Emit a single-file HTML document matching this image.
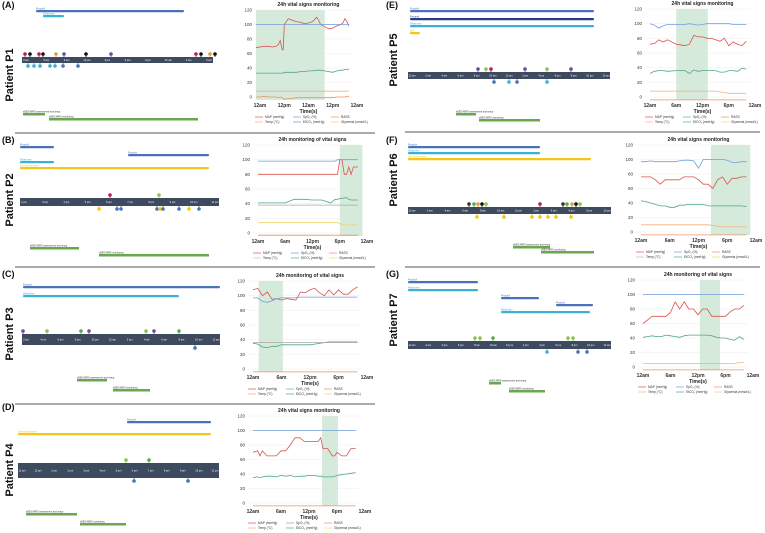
<!DOCTYPE html>
<html><head><meta charset="utf-8">
<style>
html,body{margin:0;padding:0;background:#fff;}
svg{display:block;font-family:"Liberation Sans",sans-serif;}
</style></head>
<body>
<svg id="fig" width="765" height="533" viewBox="0 0 765 533" xmlns="http://www.w3.org/2000/svg"></svg>
<script>
// ---------- chart data (hours since start, values) ----------
const A_HOURS=[-2,0,2,4,6,8,9,10,11,11.5,12,14,16,18,20,22,24,26,28,29,30,32,34,36,38,40,41,42,43,44];
const A_MAP=[68,69,70,70,69,70,72,78,65,65,100,108,106,104,103,101,102,104,110,106,100,97,94,95,98,100,102,108,104,98];
const A_SPO2=[100,100,100,100,100,100,100,100,100,100,100,100,100,100,100,100,100,100,100,100,100,100,100,100,100,100,100,100,100,100];
const A_CO2=[33,33,33,33,33,33,33,33,33,33,34,34,34,34,35,35,36,36,37,37,37,36,35,34,36,37,37,38,38,38];
const A_TEMP=[8,8,8,8,8,8,8,8,8,8,8,8,8,8,8,8,8,8,8,8,8,8,8,8,8,8,8,8,8,8];
const A_RASS=[0,0,1,0,0,0,-1,0,-1,-2,-3,-2,-2,-1,-1,-1,-1,-1,-1,-1,-1,-1,-1,-1,0,0,0,0,1,1];

const B_HOURS=[0,2,4,6,8,10,12,14,16,17,17.5,18,18.5,19,19.5,20,20.5,21,22];
const B_MAP=[80,80,80,80,80,80,80,80,80,80,80,100,100,80,80,90,80,90,90];
const B_SPO2=[98,98,98,98,98,98,98,98,98,98,100,100,100,100,100,100,100,100,100];
const B_CO2=[41,41,41,41,46,46,45,45,41,46,46,47,47,48,48,46,45,45,45];
const B_TEMP=[38,38,38,38,38,38,38,38,38,38,38,38,38,38,38,38,38,38,38];
const B_GLY=[14,14,14,14,14,14,14,14,14,14,14,13,12,11,11,11,11,11,11];
const B_RASS=[-3,-3,-3,-3,-3,-3,-3,-3,-3,-3,-3,-3,-3,-3,-3,-3,-3,-3,-3];

const C_HOURS=[0,1,2,3,4,5,6,7,8,9,10,11,12,13,14,15,16,17,18,19,20,21,22];
const C_MAP=[108,110,100,105,95,96,94,96,95,94,105,104,108,110,104,100,108,101,108,102,102,108,112];
const C_SPO2=[97,97,92,91,93,96,97,97,97,97,98,98,98,98,98,98,98,98,98,98,98,98,98];
const C_CO2=[35,34,30,29,31,31,33,33,33,33,33,33,33,34,35,36,37,37,37,37,37,37,37];
const C_TEMP=[36,36,36,36,36,36,36,36,36,36,36,36,36,36,36,36,36,36,36,36,36,36,36];
const C_RASS=[-4,-4,-4,-4,-4,-4,-4,-4,-4,-4,-4,-4,-4,-4,-4,-4,-4,-4,-4,-4,-4,-4,-4];

const D_HOURS=[0,1,1.5,2,3,4,5,6,7,8,9,10,11,12,13,14,14.5,15,16,17,17.5,18,19,20,21,22];
const D_MAP=[70,72,65,72,65,65,65,72,72,80,90,90,85,85,85,85,90,75,75,65,65,70,65,65,75,75];
const D_SPO2=[100,100,100,100,100,100,100,100,100,100,100,100,100,100,100,100,100,100,100,100,100,100,100,100,100,100];
const D_CO2=[35,36,35,36,37,37,36,38,37,38,36,37,37,38,38,37,37,36,36,36,37,38,39,40,41,42];
const D_RASS=[-4,-4,-4,-4,-4,-4,-4,-4,-4,-4,-4,-4,-4,-4,-4,-4,-4,-4,-4,-4,-4,-4,-4,-4,-4,-4];

const E_HOURS=[0,1,2,3,4,6,8,9,10,11,12,13,14,15,16,17,18,19,20,21,22];
const E_MAP=[72,73,78,75,78,72,70,72,84,82,82,80,80,78,76,80,70,75,72,70,76];
const E_SPO2=[100,98,94,97,99,99,99,100,99,98,99,100,100,100,100,100,100,99,99,99,99];
const E_CO2=[32,35,36,36,35,36,36,32,37,35,36,36,36,36,34,34,36,36,35,39,38];
const E_TEMP=[8,8,8,8,8,8,8,8,8,8,8,8,8,8,7,6,5,5,5,5,5];
const E_RASS=[-4,-4,-4,-4,-4,-4,-4,-4,-4,-4,-4,-4,-4,-4,-4,-4,-4,-4,-4,-4,-4];

const F_HOURS=[0,1,2,3,4,5,6,7,8,9,10,11,12,13,14,15,16,17,18,19,20,21,22];
const F_MAP=[76,76,76,72,66,72,72,72,72,76,76,76,72,66,66,60,72,76,66,74,74,76,76];
const F_SPO2=[97,97,98,97,97,97,97,97,98,99,99,98,88,100,100,100,100,100,99,96,96,97,97];
const F_CO2=[43,42,40,38,36,36,34,34,37,37,38,38,38,38,36,36,36,36,36,36,36,36,35];
const F_TEMP=[10,10,10,10,10,10,10,10,10,10,10,10,10,10,10,9,8,7,7,7,7,7,7];
const F_RASS=[-4,-4,-4,-4,-4,-4,-4,-4,-4,-4,-4,-4,-4,-4,-4,-4,-4,-4,-4,-4,-4,-4,-4];

const G_HOURS=[0,1,2,3,4,5,6,7,8,9,10,11,12,13,14,15,16,17,18,19,20,21,22];
const G_MAP=[60,65,70,70,70,70,75,90,80,90,80,80,72,80,80,70,70,70,70,76,80,80,85];
const G_SPO2=[100,100,100,100,100,100,100,100,100,100,100,100,100,100,100,100,100,100,100,100,100,100,100];
const G_CO2=[41,42,43,42,42,44,43,42,41,43,44,44,44,44,44,43,41,40,40,38,37,42,38];
const G_TEMP=[5,5,5,5,5,5,5,5,5,5,5,5,5,5,5,5,5,5,5,5,5,6,6];
const G_RASS=[-4,-4,-4,-4,-4,-4,-4,-4,-4,-4,-4,-4,-4,-4,-4,-4,-4,-4,-4,-4,-4,-4,-4];

const Y_TICKS=[0,20,40,60,80,100,120];
const TICKS_48=["12am","12pm","12am","12pm","12am"];
const TICKS_24=["12am","6am","12pm","6pm","12am"];
const LEGEND_LABELS=["MAP (mmHg)","SpO₂ (%)","RASS","Temp (°C)","EtCO₂ (mmHg)","Glycemia (mmol/L)"];
const LEGEND_COLORS=["#d9534f","#6f9fd8","#e8916b","#f0b27a","#4fa58a","#f3d36b"];

const NS="http://www.w3.org/2000/svg";
const svg=document.getElementById('fig');
function mk(tag,attrs,parent,txt){const e=document.createElementNS(NS,tag);for(const k in attrs)e.setAttribute(k,attrs[k]);if(txt!==undefined)e.textContent=txt;(parent||svg).appendChild(e);return e;}

const charts=[
 {id:'a',title:'24h vital signs monitoring',x0:260,x1:357,hrs:48,yt:10,yb:97,ticks:TICKS_48,shade:[-2,32],H:A_HOURS,S:[[A_MAP,'#d9534f'],[A_SPO2,'#6f9fd8'],[A_CO2,'#4fa58a'],[A_TEMP,'#f0b27a'],[A_RASS,'#e8916b']]},
 {id:'b',title:'24h monitoring of vital signs',x0:258,x1:367,hrs:24,yt:145,yb:233,ticks:TICKS_24,shade:[18,23],H:B_HOURS,S:[[B_MAP,'#d9534f'],[B_SPO2,'#6f9fd8'],[B_CO2,'#4fa58a'],[B_TEMP,'#a8a8a8'],[B_GLY,'#f3d36b'],[B_RASS,'#e8916b']]},
 {id:'c',title:'24h monitoring of vital signs',x0:253,x1:367,hrs:24,yt:281,yb:369,ticks:TICKS_24,shade:[1.2,6.3],H:C_HOURS,S:[[C_MAP,'#d9534f'],[C_SPO2,'#6f9fd8'],[C_CO2,'#4fa58a'],[C_TEMP,'#a8a8a8'],[C_RASS,'#e8916b']]},
 {id:'d',title:'24h vital signs monitoring',x0:253,x1:365,hrs:24,yt:416,yb:503,ticks:TICKS_24,shade:[14.8,18.2],H:D_HOURS,S:[[D_MAP,'#d9534f'],[D_SPO2,'#6f9fd8'],[D_CO2,'#4fa58a'],[D_RASS,'#e8916b']]},
 {id:'e',title:'24h vital signs monitoring',x0:650,x1:755,hrs:24,yt:9,yb:97,ticks:TICKS_24,shade:[6,13.2],H:E_HOURS,S:[[E_MAP,'#d9534f'],[E_SPO2,'#6f9fd8'],[E_CO2,'#4fa58a'],[E_TEMP,'#f0b27a'],[E_RASS,'#e8916b']]},
 {id:'f',title:'24h vital signs monitoring',x0:641,x1:756,hrs:24,yt:145,yb:232,ticks:TICKS_24,shade:[14.6,22.8],H:F_HOURS,S:[[F_MAP,'#d9534f'],[F_SPO2,'#6f9fd8'],[F_CO2,'#4fa58a'],[F_TEMP,'#f0b27a'],[F_RASS,'#e8916b']]},
 {id:'g',title:'24h monitoring of vital signs',x0:643,x1:753,hrs:24,yt:280,yb:367,ticks:TICKS_24,shade:[12.4,16.8],H:G_HOURS,S:[[G_MAP,'#d9534f'],[G_SPO2,'#6f9fd8'],[G_CO2,'#4fa58a'],[G_TEMP,'#f0b27a'],[G_RASS,'#e8916b']]}
];

charts.forEach(c=>{
  const g=mk('g',{});
  
  
  const xs=h=>c.x0+(c.x1-c.x0)*h/c.hrs;
  const ys=v=>c.yb-(c.yb-c.yt)*v/120;
  const pl=c.x0-5, pr=c.x0+(c.x1-c.x0)*(c.hrs===48?44:22)/c.hrs+4;
  // grid
  Y_TICKS.forEach(t=>{
    const ln=mk('line',{x1:pl,x2:pr,y1:ys(t),y2:ys(t),stroke:'#eeeeee','stroke-width':0.5},g);
    
    
    const tx=mk('text',{x:pl-3,y:ys(t)+1.5,'font-size':4.5,'text-anchor':'end',fill:'#333'},g,String(t));
    
    
  });
  // shade
  const sh=mk('rect',{x:Math.max(pl,xs(c.shade[0])),y:c.yt,width:xs(c.shade[1])-Math.max(pl,xs(c.shade[0])),height:c.yb-c.yt+3,fill:'#cfe6d6',opacity:0.85},g);
  
  
  // title
  const ti=mk('text',{x:(c.x0+c.x1)/2,y:c.yt-4,'font-size':5,'font-weight':'bold','text-anchor':'middle',fill:'#222'},g,c.title);
  
  
  // x ticks
  c.ticks.forEach((t,i)=>{
    const tx=mk('text',{x:c.x0+(c.x1-c.x0)*i/(c.ticks.length-1),y:c.yb+10,'font-size':5,'font-weight':'bold','text-anchor':'middle',fill:'#333'},g,t);
    
    
  });
  const xt=mk('text',{x:(c.x0+c.x1)/2,y:c.yb+16,'font-size':5,'font-weight':'bold','text-anchor':'middle',fill:'#222'},g,'Time(s)');
  
  
  // series
  c.S.forEach((s,si)=>{
    const pts=c.H.map((h,i)=>xs(h).toFixed(1)+','+ys(s[0][i]).toFixed(1)).join(' ');
    const pth=mk('polyline',{points:pts,fill:'none',stroke:s[1],'stroke-width':0.8},g);
    
    
  });
  // legend
  LEGEND_LABELS.forEach((lab,i)=>{
    const col=i%3,row=Math.floor(i/3);
    const lx=c.x0-5+col*38, ly=c.yb+21+row*5;
    const ll=mk('line',{x1:lx,x2:lx+8,y1:ly-1,y2:ly-1,stroke:LEGEND_COLORS[i],'stroke-width':0.7},g);
    
    
    const lt=mk('text',{x:lx+10,y:ly,'font-size':3.2,fill:'#333'},g,lab);
    
    
  });
});

// ---------- timelines / panel labels ----------
const panels=[
 {L:'(A)',P:'Patient P1',lx:2,ly:8,px:13,py:75,bar:[22,57,213,6],ticks:['3 am','6 am','9 am','12 pm','3 pm','6 pm','9 pm','12 am','3 am','6 am'],
  bars:[[36,10,184,'#4a72b8','Propofol'],[43,15,64,'#3bb0d8','Midazolam']],green:[[23,113,45],[49,118,198]],
  marks:[[25,'#c2185b',-1],[30,'#111',-1],[39,'#c2185b',-1],[43,'#111',-1],[56,'#e39b45',-1],[64,'#6a4c9c',-1],[86,'#111',-1],[111,'#6a4c9c',-1],[196,'#c2185b',-1],[201,'#111',-1],[210,'#e39b45',-1],[215,'#111',-1],[28,'#3bb0d8',1],[34,'#3bb0d8',1],[40,'#3bb0d8',1],[50,'#3bb0d8',1],[55,'#3bb0d8',1],[63,'#4a72b8',1],[78,'#4a72b8',1]]},
 {L:'(B)',P:'Patient P2',lx:2,ly:143,px:13,py:200,bar:[20,198,219,8],ticks:['2 pm','3 pm','4 pm','5 pm','6 pm','7 pm','8 pm','9 pm','10 pm','11 pm'],
  bars:[[20,146,54,'#4a72b8','Propofol'],[128,154,209,'#4a72b8','Propofol'],[20,161,54,'#3bb0d8','Midazolam'],[20,167,209,'#f5c518','Dexmedetomidine']],green:[[30,247,79],[99,254,209]],
  marks:[[110,'#c2185b',-1],[159,'#8bc34a',-1],[99,'#f5c518',1],[117,'#4a72b8',1],[121,'#4a72b8',1],[157,'#4a72b8',1],[160,'#f5c518',1],[163,'#4a72b8',1],[179,'#4a72b8',1],[189,'#f5c518',1],[199,'#4a72b8',1]]},
 {L:'(C)',P:'Patient P3',lx:2,ly:277,px:13,py:334,bar:[22,334,220,11],ticks:['2 pm','4 pm','6 pm','8 pm','10 pm','12 am','2 am','4 am','6 am','8 am','10 am','12 pm'],
  bars:[[23,286,220,'#4a72b8','Propofol'],[23,295,179,'#3bb0d8','Midazolam']],green:[[77,379,107],[113,389,150]],
  marks:[[23,'#6a4c9c',-1],[47,'#8bc34a',-1],[81,'#5aa84f',-1],[89,'#6a4c9c',-1],[146,'#8bc34a',-1],[154,'#6a4c9c',-1],[179,'#5aa84f',-1],[195,'#4a72b8',1]]},
 {L:'(D)',P:'Patient P4',lx:2,ly:410,px:13,py:470,bar:[18,463,219,15],ticks:['11 am','12 pm','1 pm','2 pm','3 pm','4 pm','5 pm','6 pm','7 pm','8 pm','9 pm','10 pm','11 pm'],
  bars:[[127,421,211,'#4a72b8','Propofol'],[18,433,211,'#f5c518','Dexmedetomidine']],green:[[26,513,77],[80,523,126]],
  marks:[[126,'#8bc34a',-1],[149,'#5aa84f',-1],[134,'#4a72b8',1],[188,'#4a72b8',1]]},
 {L:'(E)',P:'Patient P5',lx:386,ly:8,px:397,py:60,bar:[408,72,610,7],ticks:['12 am','2 am','4 am','6 am','8 am','10 am','12 pm','2 pm','4 pm','6 pm','8 pm','10 pm','12 am'],
  bars:[[410,10,594,'#4a72b8','Propofol'],[410,18,594,'#2e3a8c','Fentanyl'],[410,25,594,'#3bb0d8','Midazolam'],[410,32,420,'#f5c518','Dex']],green:[[456,113,476],[479,119,540]],
  marks:[[478,'#6a4c9c',-1],[486,'#8bc34a',-1],[491,'#c2185b',-1],[525,'#6a4c9c',-1],[547,'#8bc34a',-1],[571,'#6a4c9c',-1],[494,'#4a72b8',1],[509,'#3bb0d8',1],[517,'#4a72b8',1],[547,'#3bb0d8',1]]},
 {L:'(F)',P:'Patient P6',lx:386,ly:143,px:397,py:180,bar:[408,207,611,7],ticks:['12 am','2 am','4 am','6 am','8 am','10 am','12 pm','2 pm','4 pm','6 pm','8 pm','10 pm'],
  bars:[[408,146,540,'#4a72b8','Propofol'],[408,152,540,'#3bb0d8','Midazolam'],[408,158,591,'#f5c518','Dexmedetomidine']],green:[[513,246,550],[541,251,594]],
  marks:[[469,'#333',-1],[474,'#5aa84f',-1],[478,'#e39b45',-1],[482,'#111',-1],[486,'#8bc34a',-1],[540,'#c2185b',-1],[563,'#333',-1],[567,'#5aa84f',-1],[572,'#e39b45',-1],[576,'#111',-1],[580,'#8bc34a',-1],[477,'#f5c518',1],[504,'#f5c518',1],[532,'#f5c518',1],[540,'#f5c518',1],[548,'#f5c518',1],[556,'#f5c518',1],[571,'#f5c518',1]]},
 {L:'(G)',P:'Patient P7',lx:386,ly:277,px:397,py:320,bar:[408,341,611,8],ticks:['12 am','2 am','4 am','6 am','8 am','10 am','12 pm','2 pm','4 pm','6 pm','8 pm','10 pm','12 am'],
  bars:[[408,281,478,'#4a72b8','Propofol'],[408,289,478,'#3bb0d8','Midazolam'],[501,297,539,'#4a72b8','Propofol'],[556,304,593,'#4a72b8','Propofol'],[501,311,590,'#3bb0d8','Midazolam']],green:[[489,382,501],[509,390,545]],
  marks:[[475,'#8bc34a',-1],[480,'#8bc34a',-1],[493,'#5aa84f',-1],[568,'#8bc34a',-1],[573,'#8bc34a',-1],[547,'#3bb0d8',1],[578,'#4a72b8',1],[587,'#4a72b8',1]]}
];
// separators
[[15,133,375],[15,267,375],[15,404,375],[405,132,760],[405,267,760]].forEach(s=>{
  const l=mk('line',{x1:s[0],x2:s[2],y1:s[1],y2:s[1],stroke:'#555','stroke-width':1});
  
  
});
panels.forEach(p=>{
  const g=mk('g',{});
  
  
  const lt=mk('text',{x:p.lx,y:p.ly,'font-size':9,'font-weight':'bold',fill:'#111'},g,p.L);
  
  
  const pt=mk('text',{x:p.px,y:p.py,'font-size':11,'font-weight':'bold',fill:'#111','text-anchor':'middle',transform:`rotate(-90 ${p.px} ${p.py})`},g,p.P);
  
  
  const [bx,by,bx2,bh]=p.bar;
  const tb=mk('rect',{x:bx,y:by,width:bx2-bx,height:bh,fill:'#3d4a5f'},g);
  
  
  p.ticks.forEach((t,i)=>{
    const tx=mk('text',{x:bx+4+(bx2-bx-8)*i/(p.ticks.length-1),y:by+bh/2+1,'font-size':2.6,fill:'#fff','text-anchor':'middle'},g,t);
    
    
  });
  p.bars.forEach(b=>{
    const r=mk('rect',{x:b[0],y:b[1],width:b[2]-b[0],height:2.2,fill:b[3],rx:1},g);
    
    
    const t=mk('text',{x:b[0],y:b[1]-0.6,'font-size':2.4,fill:b[3]},g,b[4]);
    
    
  });
  p.green.forEach((gb,i)=>{
    const r=mk('rect',{x:gb[0],y:gb[1],width:gb[2]-gb[0],height:2.5,fill:'#6aa84f'},g);
    
    
    const t=mk('text',{x:gb[0],y:gb[1]-0.7,'font-size':2.4,fill:'#333'},g,i===0?'sEEG/NIRS assessment and setup':'sEEG/NIRS monitoring');
    
    
  });
  p.marks.forEach(m=>{
    const y=m[2]<0?by-3:by+bh+3;
    const c=mk('circle',{cx:m[0],cy:y,r:1.8,fill:m[1]},g);
    
    
    const s=mk('line',{x1:m[0],x2:m[0],y1:y,y2:m[2]<0?by:by+bh,stroke:m[1],'stroke-width':0.8},g);
    
    
  });
});
</script>
</body></html>
